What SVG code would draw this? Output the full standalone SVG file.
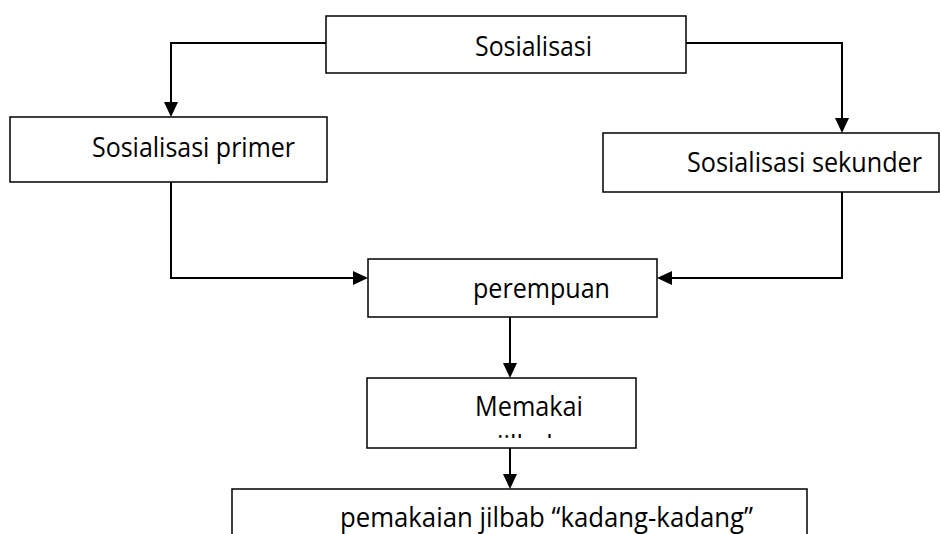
<svg xmlns="http://www.w3.org/2000/svg" width="940" height="534" viewBox="0 0 940 534">
<style>
.box{fill:#fff;stroke:#000;stroke-width:1.5}
.lbl{font-family:"Open Sans","Liberation Sans",sans-serif;font-size:27.5px;fill:#000}
.con{fill:none;stroke:#000;stroke-width:2}
</style>
<defs>
<marker id="arr" markerUnits="userSpaceOnUse" markerWidth="15" markerHeight="14" refX="9" refY="7" orient="auto" viewBox="0 0 15 14">
<path d="M0,0 L15,7 L0,14 Z" fill="#000"/>
</marker>
<clipPath id="clipM"><rect x="368" y="379" width="267" height="59"/></clipPath>
</defs>
<rect width="940" height="534" fill="#fff"/>
<g id="connectors">
<path class="con" d="M326,43 H171 V111" marker-end="url(#arr)"/>
<path class="con" d="M686,43 H842 V127" marker-end="url(#arr)"/>
<path class="con" d="M171,182 V278 H362" marker-end="url(#arr)"/>
<path class="con" d="M842,192 V278 H663" marker-end="url(#arr)"/>
<path class="con" d="M510,317 V372" marker-end="url(#arr)"/>
<path class="con" d="M510,448 V483" marker-end="url(#arr)"/>
</g>
<g id="sosialisasi">
<rect class="box" x="326" y="16" width="360" height="57"/>
<text class="lbl" x="475" y="56" textLength="117" lengthAdjust="spacingAndGlyphs">Sosialisasi</text>
</g>
<g id="primer">
<rect class="box" x="10" y="117" width="317" height="65"/>
<text class="lbl" x="92" y="157" textLength="203" lengthAdjust="spacingAndGlyphs">Sosialisasi primer</text>
</g>
<g id="sekunder">
<rect class="box" x="603" y="133" width="336" height="59"/>
<text class="lbl" x="687" y="172" textLength="235" lengthAdjust="spacingAndGlyphs">Sosialisasi sekunder</text>
</g>
<g id="perempuan">
<rect class="box" x="368" y="259" width="289" height="58"/>
<text class="lbl" x="473" y="298" textLength="137" lengthAdjust="spacingAndGlyphs">perempuan</text>
</g>
<g id="memakai">
<rect class="box" x="367" y="378" width="269" height="70"/>
<text class="lbl" x="475" y="416" textLength="108" lengthAdjust="spacingAndGlyphs">Memakai</text>
<text class="lbl" x="497" y="455" textLength="65" lengthAdjust="spacingAndGlyphs" clip-path="url(#clipM)">jilbab</text>
</g>
<g id="pemakaian">
<rect class="box" x="232" y="489" width="575" height="60"/>
<text class="lbl" x="340" y="527" textLength="413" lengthAdjust="spacingAndGlyphs">pemakaian jilbab “kadang-kadang”</text>
</g>
</svg>
